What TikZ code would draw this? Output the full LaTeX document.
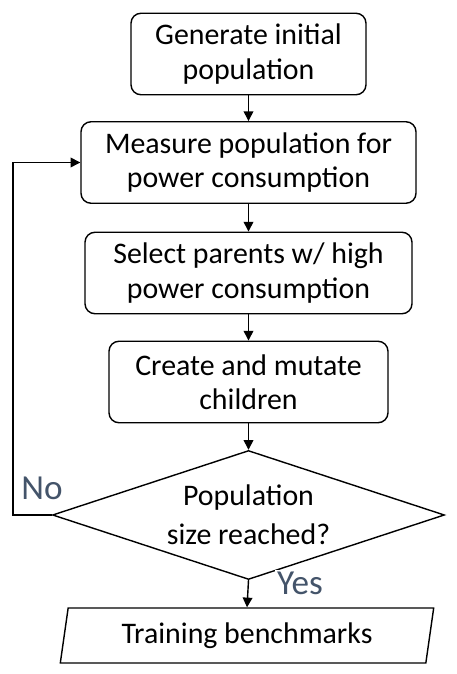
\documentclass[tikz,border=0pt]{standalone}
\usepackage{fontspec}
\setmainfont{Carlito}
\usetikzlibrary{shapes.geometric,arrows.meta}
\definecolor{labelgray}{HTML}{44546A}

\begin{document}
\begin{tikzpicture}[
    every node/.style={font=\fontsize{17}{19.5}\selectfont, align=center},
    stepbox/.style={draw, rounded corners=0.2cm, line width=0.8pt, minimum height=1.63cm, inner sep=0pt},
    flow/.style={-{Triangle[length=5.5pt,width=5.5pt]}, line width=0.8pt},
    answer/.style={text=labelgray, font=\fontsize{20}{24}\selectfont}
  ]
  \useasboundingbox (0,0) rectangle (9.12,13.48);
  % process boxes, top to bottom (px -> cm at 0.02)
  \node[stepbox, minimum width=4.70cm] (gen) at (4.97,12.40) {Generate initial\\population};
  \node[stepbox, minimum width=6.70cm] (meas) at (4.97,10.23) {Measure population for\\power consumption};
  \node[stepbox, minimum width=6.54cm] (sel) at (4.97,8.02) {Select parents w/ high\\power consumption};
  \node[stepbox, minimum width=5.58cm] (mut) at (4.97,5.84) {Create and mutate\\children};
  % decision
  \node[draw, diamond, shape aspect=3.04, line width=0.8pt, inner sep=0pt, minimum width=7.84cm, minimum height=2.58cm,
        font=\fontsize{17}{22}\selectfont] (chk) at (4.97,3.18) {Population\\size reached?};
  % output
  \node[draw, trapezium, trapezium left angle=78, trapezium right angle=102, trapezium stretches=true,
        line width=0.8pt, inner sep=0pt, minimum width=7.48cm, minimum height=1.10cm] (out) at (4.94,0.77) {Training benchmarks};
  % straight arrows
  \foreach \a/\b in {gen/meas, meas/sel, sel/mut, mut/chk, chk/out} {
    \draw[flow] (\a.south) -- (\b.north);
  }
  % loop back
  \coordinate (back) at (0.26,3.18);
  \draw[flow] (chk.west) -- (back) |- (meas.west);
  % answers
  \node[answer] (no) at (0.84,3.72) {No};
  \node[answer, fill=white, inner sep=1pt] (yes) at (6.0,1.82) {Yes};
\end{tikzpicture}
\end{document}
